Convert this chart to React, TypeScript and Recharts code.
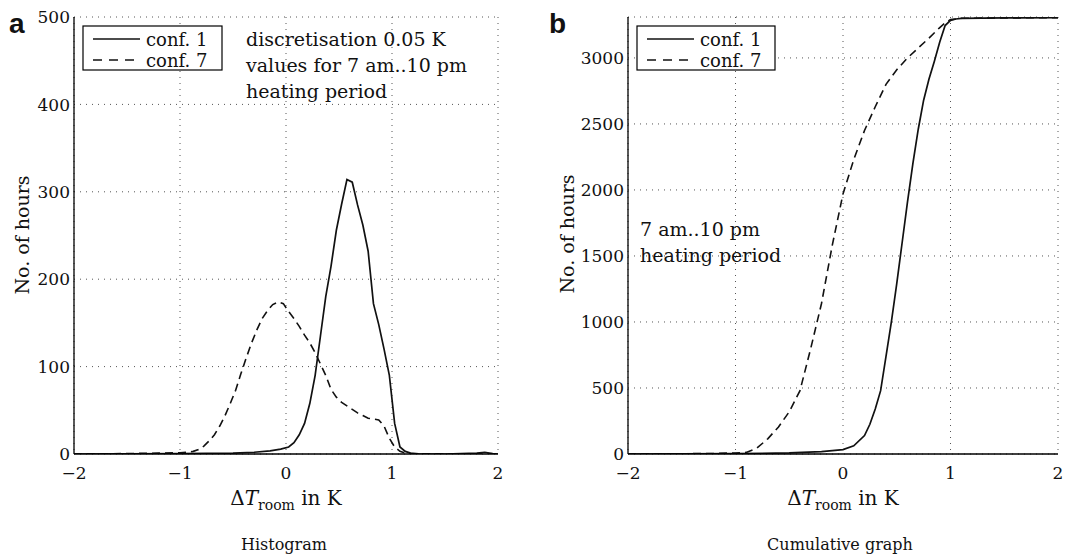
import { LineChart, Line, XAxis, YAxis, CartesianGrid } from 'recharts';

// histogram (0.05 K bins), hours per bin
const histXConf1 = [-2, -1.5, -1, -0.5, -0.3, -0.15, -0.05, 0.025, 0.075, 0.125, 0.175, 0.225, 0.275, 0.325, 0.375, 0.425, 0.475, 0.525, 0.575, 0.625, 0.675, 0.725, 0.775, 0.825, 0.875, 0.925, 0.975, 1.025, 1.075, 1.125, 1.175, 1.25, 1.5, 1.8, 1.875, 1.95, 2];
const histYConf1 = [0, 0.3, 0.5, 1, 2, 3.5, 5.5, 8, 13, 22, 35, 58, 90, 135, 180, 215, 256, 286, 314, 311, 285, 262, 232, 172, 148, 120, 90, 35, 8, 3, 1, 0.3, 0, 1, 2, 0.5, 0];

const histXConf7 = [-2, -1.5, -1.2, -1, -0.925, -0.875, -0.825, -0.775, -0.725, -0.675, -0.625, -0.575, -0.525, -0.475, -0.425, -0.375, -0.325, -0.275, -0.225, -0.175, -0.125, -0.075, -0.025, 0.025, 0.075, 0.125, 0.175, 0.225, 0.275, 0.325, 0.375, 0.425, 0.475, 0.525, 0.575, 0.625, 0.675, 0.725, 0.775, 0.825, 0.875, 0.925, 0.975, 1.025, 1.075, 1.125, 1.2, 1.5, 2];
const histYConf7 = [0, 0.5, 1, 1.5, 2, 3, 5, 9, 15, 22, 32, 44, 58, 73, 92, 110, 127, 142, 155, 164, 171, 174, 172, 163, 155, 146, 136, 127, 116, 103, 90, 74, 65, 59, 55, 51, 47, 44, 41, 40, 39, 32, 18, 8, 3, 1, 0.3, 0, 0];

// cumulative hours
const cumXConf1 = [-2, -1.5, -1, -0.5, -0.2, 0, 0.1, 0.2, 0.25, 0.3, 0.35, 0.4, 0.45, 0.5, 0.55, 0.6, 0.65, 0.7, 0.75, 0.8, 0.85, 0.9, 0.95, 1.0, 1.05, 1.1, 1.5, 2];
const cumYConf1 = [0, 1, 3, 8, 18, 33, 62, 140, 225, 340, 480, 740, 1000, 1290, 1600, 1910, 2200, 2460, 2680, 2840, 2975, 3120, 3245, 3285, 3295, 3300, 3303, 3305];

const cumXConf7 = [-2, -1.5, -1.2, -1, -0.9, -0.8, -0.7, -0.6, -0.5, -0.4, -0.3, -0.2, -0.1, 0, 0.1, 0.2, 0.3, 0.4, 0.5, 0.6, 0.7, 0.8, 0.9, 0.95, 1.0, 1.1, 1.5, 2];
const cumYConf7 = [0, 2, 4, 8, 12, 45, 115, 205, 320, 480, 800, 1140, 1580, 1970, 2230, 2450, 2630, 2800, 2910, 3000, 3075, 3150, 3230, 3265, 3290, 3300, 3303, 3305];

const xTicks = [-2, -1, 0, 1, 2];
const histTicks = [0, 100, 200, 300, 400, 500];
const cumTicks = [0, 500, 1000, 1500, 2000, 2500, 3000];

const zip = (xs: number[], ys: number[]) => xs.map((x, i) => ({ x, y: ys[i] }));

const fmt = (v: number) => (v < 0 ? `\u2212${-v}` : String(v));
const FONT = "'DejaVu Serif', serif";

// custom ticks so the serif font is applied for sure
const XTick = ({ x, y, payload }: any) => (
  <text x={x} y={y} dy="0.75em" textAnchor="middle" fontSize={17} fill="#111" fontFamily={FONT}>
    {fmt(payload.value)}
  </text>
);
const YTick = ({ x, y, payload }: any) => (
  <text x={x} y={y} dy="0.36em" textAnchor="end" fontSize={17} fill="#111" fontFamily={FONT}>
    {fmt(payload.value)}
  </text>
);

function Panel({
  width,
  marginRight,
  yWidth,
  yMax,
  yTicks,
  solid,
  dashed,
}: {
  width: number;
  marginRight: number;
  yWidth: number;
  yMax: number;
  yTicks: number[];
  solid: { x: number; y: number }[];
  dashed: { x: number; y: number }[];
}) {
  return (
    <LineChart width={width} height={556} margin={{ top: 17, right: marginRight, bottom: 0, left: 0 }}>
      <CartesianGrid stroke="#555" strokeDasharray="1 5" />
      <XAxis
        type="number"
        dataKey="x"
        domain={[-2, 2]}
        ticks={xTicks}
        allowDataOverflow
        height={102}
        tickSize={0}
        tickMargin={12}
        tick={<XTick />}
        axisLine={{ stroke: '#000', strokeWidth: 1.3 }}
        tickLine={false}
      />
      <XAxis xAxisId="bt" type="number" domain={[-2, 2]} ticks={xTicks} allowDataOverflow height={0} mirror tick={false} tickSize={5} axisLine={false} tickLine={{ stroke: '#000' }} />
      <XAxis xAxisId="top" orientation="top" type="number" domain={[-2, 2]} ticks={xTicks} allowDataOverflow height={0} mirror tick={false} tickSize={5} axisLine={{ stroke: '#000', strokeWidth: 1.3 }} tickLine={{ stroke: '#000' }} />
      <YAxis
        type="number"
        domain={[0, yMax]}
        ticks={yTicks}
        allowDataOverflow
        width={yWidth}
        tickSize={0}
        tickMargin={4}
        tick={<YTick />}
        axisLine={{ stroke: '#000', strokeWidth: 1.3 }}
        tickLine={false}
      />
      <YAxis yAxisId="lt" type="number" domain={[0, yMax]} ticks={yTicks} allowDataOverflow width={0} mirror tick={false} tickSize={5} axisLine={false} tickLine={{ stroke: '#000' }} />
      <YAxis yAxisId="right" orientation="right" type="number" domain={[0, yMax]} ticks={yTicks} allowDataOverflow width={0} mirror tick={false} tickSize={5} axisLine={{ stroke: '#000', strokeWidth: 1.3 }} tickLine={{ stroke: '#000' }} />
      <Line data={solid} dataKey="y" type="linear" stroke="#111" strokeWidth={1.7} dot={false} isAnimationActive={false} />
      <Line data={dashed} dataKey="y" type="linear" stroke="#111" strokeWidth={1.6} strokeDasharray="8 5" dot={false} isAnimationActive={false} />
    </LineChart>
  );
}

function LegendBox({ x, y, w }: { x: number; y: number; w: number }) {
  return (
    <g>
      <rect x={x} y={y} width={w} height={44} fill="#fff" stroke="#000" strokeWidth={1.2} />
      <line x1={x + 10} x2={x + 57} y1={y + 13} y2={y + 13} stroke="#111" strokeWidth={1.6} />
      <line x1={x + 10} x2={x + 57} y1={y + 34} y2={y + 34} stroke="#111" strokeWidth={1.6} strokeDasharray="9 7" />
      <text x={x + 63} y={y + 20} fontSize={18}>conf. 1</text>
      <text x={x + 63} y={y + 41} fontSize={18}>conf. 7</text>
    </g>
  );
}

function AxisTitle({ cx }: { cx: number }) {
  return (
    <text x={cx} y={505} textAnchor="middle" fontSize={20}>
      Δ<tspan fontStyle="italic">T</tspan>
      <tspan fontSize={14} dy={5}>room</tspan>
      <tspan dy={-5}> in K</tspan>
    </text>
  );
}

export default function App() {
  return (
    <div style={{ position: 'fixed', left: 0, top: 0, width: 1072, height: 556, background: '#fff', fontFamily: FONT }}>
      <div style={{ position: 'absolute', left: 0, top: 0 }}>
        <Panel width={540} marginRight={42} yWidth={74} yMax={500} yTicks={histTicks} solid={zip(histXConf1, histYConf1)} dashed={zip(histXConf7, histYConf7)} />
      </div>
      <div style={{ position: 'absolute', left: 540, top: 0 }}>
        <Panel width={532} marginRight={14} yWidth={88} yMax={3310} yTicks={cumTicks} solid={zip(cumXConf1, cumYConf1)} dashed={zip(cumXConf7, cumYConf7)} />
      </div>
      <svg width={1072} height={556} style={{ position: 'absolute', left: 0, top: 0, pointerEvents: 'none', fontFamily: FONT }} fill="#111">
        <text x={9} y={33} fontSize={28} fontWeight="bold" style={{ fontFamily: "'Liberation Sans', Arial, sans-serif" }}>a</text>
        <text x={549} y={33} fontSize={28} fontWeight="bold" style={{ fontFamily: "'Liberation Sans', Arial, sans-serif" }}>b</text>

        <LegendBox x={83} y={26} w={139} />
        <LegendBox x={637} y={26} w={138} />

        <text x={246} y={46} fontSize={19}>discretisation 0.05 K</text>
        <text x={246} y={72} fontSize={19}>values for 7 am..10 pm</text>
        <text x={246} y={98} fontSize={19}>heating period</text>

        <text x={640} y={236} fontSize={19}>7 am..10 pm</text>
        <text x={640} y={262} fontSize={19}>heating period</text>

        <text transform="translate(29,235) rotate(-90)" textAnchor="middle" fontSize={19}>No. of hours</text>
        <text transform="translate(574,234) rotate(-90)" textAnchor="middle" fontSize={19}>No. of hours</text>

        <AxisTitle cx={286} />
        <AxisTitle cx={843} />

        <text x={284} y={550} textAnchor="middle" fontSize={16}>Histogram</text>
        <text x={840} y={550} textAnchor="middle" fontSize={16}>Cumulative graph</text>
      </svg>
    </div>
  );
}
